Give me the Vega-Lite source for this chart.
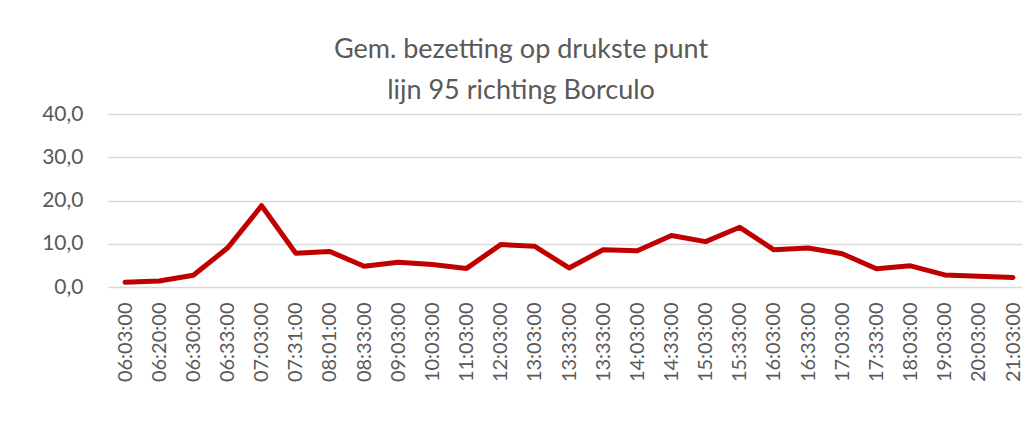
{
  "$schema": "https://vega.github.io/schema/vega-lite/v6.json",
  "autosize": {"type": "none"},
  "padding": {"left": 108, "top": 114, "right": 0, "bottom": 146},
  "width": 914,
  "height": 173,
  "background": "white",
  "title": {
    "text": ["Gem. bezetting op drukste punt", "lijn 95 richting Borculo"],
    "font": "Lato",
    "fontSize": 27,
    "fontWeight": "normal",
    "color": "#595959",
    "lineHeight": 41,
    "anchor": "middle",
    "frame": "group",
    "dx": -44,
    "baseline": "bottom",
    "offset": -29
  },
  "data": {
    "values": [
      {"idx": 0, "tijd": "06:03:00", "bezetting": 1.1},
      {"idx": 1, "tijd": "06:20:00", "bezetting": 1.4},
      {"idx": 2, "tijd": "06:30:00", "bezetting": 2.7},
      {"idx": 3, "tijd": "06:33:00", "bezetting": 9.0},
      {"idx": 4, "tijd": "07:03:00", "bezetting": 18.8},
      {"idx": 5, "tijd": "07:31:00", "bezetting": 7.8},
      {"idx": 6, "tijd": "08:01:00", "bezetting": 8.2},
      {"idx": 7, "tijd": "08:33:00", "bezetting": 4.8},
      {"idx": 8, "tijd": "09:03:00", "bezetting": 5.7},
      {"idx": 9, "tijd": "10:03:00", "bezetting": 5.2},
      {"idx": 10, "tijd": "11:03:00", "bezetting": 4.3},
      {"idx": 11, "tijd": "12:03:00", "bezetting": 9.8},
      {"idx": 12, "tijd": "13:03:00", "bezetting": 9.4},
      {"idx": 13, "tijd": "13:33:00", "bezetting": 4.4},
      {"idx": 14, "tijd": "13:33:00", "bezetting": 8.6},
      {"idx": 15, "tijd": "14:03:00", "bezetting": 8.4},
      {"idx": 16, "tijd": "14:33:00", "bezetting": 11.9},
      {"idx": 17, "tijd": "15:03:00", "bezetting": 10.5},
      {"idx": 18, "tijd": "15:33:00", "bezetting": 13.8},
      {"idx": 19, "tijd": "16:03:00", "bezetting": 8.6},
      {"idx": 20, "tijd": "16:33:00", "bezetting": 9.0},
      {"idx": 21, "tijd": "17:03:00", "bezetting": 7.7},
      {"idx": 22, "tijd": "17:33:00", "bezetting": 4.2},
      {"idx": 23, "tijd": "18:03:00", "bezetting": 4.9},
      {"idx": 24, "tijd": "19:03:00", "bezetting": 2.8},
      {"idx": 25, "tijd": "20:03:00", "bezetting": 2.5},
      {"idx": 26, "tijd": "21:03:00", "bezetting": 2.2}
    ]
  },
  "mark": {
    "type": "line",
    "color": "#C00000",
    "strokeWidth": 5,
    "strokeJoin": "round",
    "strokeCap": "round"
  },
  "encoding": {
    "x": {
      "field": "idx",
      "type": "ordinal",
      "scale": {"type": "point", "padding": 0.3806, "align": 0.654},
      "axis": {
        "title": null,
        "domain": false,
        "ticks": false,
        "grid": false,
        "labelAngle": -90,
        "labelAlign": "right",
        "labelBaseline": "middle",
        "labelPadding": 15,
        "labelFont": "Lato",
        "labelFontSize": 20,
        "labelColor": "#595959",
        "labelOverlap": false,
        "labelBound": false,
        "labelExpr": "['06:03:00','06:20:00','06:30:00','06:33:00','07:03:00','07:31:00','08:01:00','08:33:00','09:03:00','10:03:00','11:03:00','12:03:00','13:03:00','13:33:00','13:33:00','14:03:00','14:33:00','15:03:00','15:33:00','16:03:00','16:33:00','17:03:00','17:33:00','18:03:00','19:03:00','20:03:00','21:03:00'][datum.value]"
      }
    },
    "y": {
      "field": "bezetting",
      "type": "quantitative",
      "scale": {"domain": [0, 40], "nice": false},
      "axis": {
        "title": null,
        "values": [0, 10, 20, 30, 40],
        "domain": false,
        "ticks": false,
        "grid": true,
        "gridColor": "#D9D9D9",
        "gridWidth": 1.3,
        "labelPadding": 25,
        "labelFont": "Lato",
        "labelFontSize": 21,
        "labelColor": "#595959",
        "labelExpr": "replace(format(datum.value, '.1f'), '.', ',')"
      }
    }
  },
  "config": {"view": {"stroke": null}}
}
